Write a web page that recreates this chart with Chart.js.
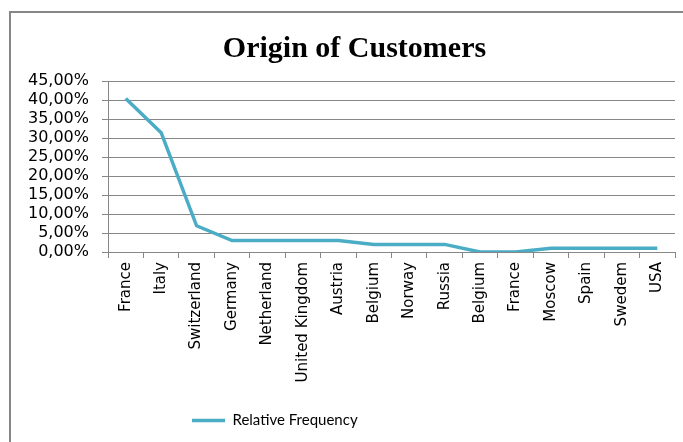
<!DOCTYPE html>
<html>
<head>
<meta charset="utf-8">
<script src="https://cdn.jsdelivr.net/npm/chart.js@4"></script>
<style>
    body { margin: 0; overflow: hidden; background: #fff; }
    #wrap { position: relative; width: 683px; height: 442px; }
    #frame { position: absolute; left: 9px; top: 11px; width: 720px; height: 480px; border: 2px solid #878787; box-sizing: border-box; }
    canvas { position: absolute; left: 0; top: 0; }
</style>
</head>
<body>
<div id="wrap">
    <div id="frame"></div>
    <canvas id="chart" width="683" height="442"></canvas>
</div>
<script>
const countries = ["France", "Italy", "Switzerland", "Germany", "Netherland", "United Kingdom", "Austria",
    "Belgium", "Norway", "Russia", "Belgium", "France", "Moscow", "Spain", "Swedem", "USA"]
const relativeFrequency = [40.4, 31.4, 6.9, 3, 3, 3, 3, 2, 2, 2, 0, 0, 1, 1, 1, 1]
const yTicks = [0, 5, 10, 15, 20, 25, 30, 35, 40, 45]

const lineColor = "#4BACC6"
const gridColor = "#878787"

// the original frame is wider than the picture, so title and legend are not centred on it
const boxShift = {
    id: 'boxShift',
    afterLayout(chart) {
        const lg = chart.legend
        lg.left = 182
        lg.right = 182 + lg.width
        const tb = chart.titleBlock
        tb.left += 11
        tb.right += 11
    }
}

new Chart(document.getElementById("chart"), {
    type: 'line',
    data: {
        labels: countries,
        datasets: [{
            label: "Relative Frequency",
            data: relativeFrequency,
            borderColor: lineColor,
            backgroundColor: lineColor,
            borderWidth: 3.5,
            pointRadius: 0,
            tension: 0
        }]
    },
    options: {
        responsive: false,
        animation: false,
        layout: {
            padding: { left: 12, right: 8, top: 0, bottom: 4 }
        },
        plugins: {
            title: {
                display: true,
                text: "Origin of Customers",
                color: "#000",
                font: { family: "'Liberation Serif', 'Times New Roman', serif", size: 30, weight: 'bold' },
                padding: { top: 31, bottom: 14 }
            },
            legend: {
                position: 'bottom',
                align: 'start',
                labels: {
                    usePointStyle: true,
                    pointStyle: 'line',
                    pointStyleWidth: 33,
                    color: "#000",
                    font: { family: "Lato, 'DejaVu Sans', sans-serif", size: 15 },
                    padding: 10
                }
            },
            tooltip: { enabled: false }
        },
        scales: {
            x: {
                offset: true,
                grid: {
                    offset: true,
                    drawOnChartArea: false,
                    color: gridColor,
                    tickLength: 6
                },
                border: { color: gridColor },
                ticks: {
                    autoSkip: false,
                    maxRotation: 90,
                    minRotation: 90,
                    padding: 4,
                    color: "#000",
                    font: { family: "'DejaVu Sans', sans-serif", size: 15 }
                },
                afterFit: function(scale) { scale.height = 151 }
            },
            y: {
                min: 0,
                max: 45,
                afterBuildTicks: function(scale) {
                    scale.ticks = yTicks.map(v => ({ value: v }))
                },
                grid: {
                    color: gridColor,
                    tickLength: 6
                },
                border: { color: gridColor },
                ticks: {
                    autoSkip: false,
                    padding: 13,
                    color: "#000",
                    font: { family: "'DejaVu Sans', sans-serif", size: 16 },
                    callback: v => v.toFixed(2).replace('.', ',') + '%'
                },
                afterFit: function(scale) { scale.width = 96 }
            }
        }
    },
    plugins: [boxShift]
})
</script>
</body>
</html>
